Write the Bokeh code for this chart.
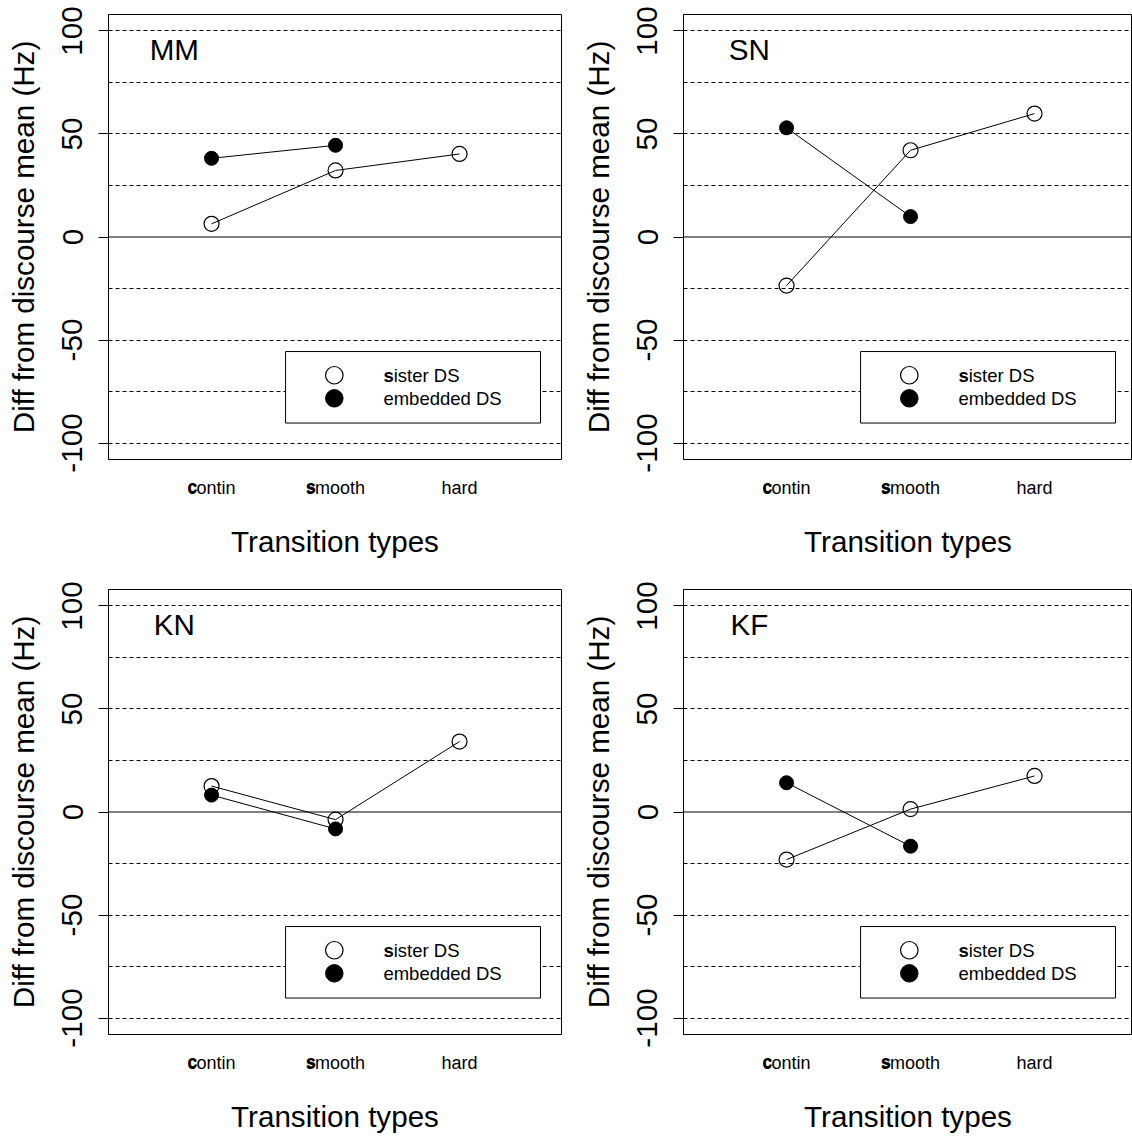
import math
from bokeh.plotting import figure
from bokeh.layouts import gridplot
from bokeh.models import FixedTicker, Span, BoxAnnotation, Label, LinearAxis
from bokeh.embed import file_html
from bokeh.resources import INLINE

NAN = float("nan")

# ---------------- data ----------------
CATEGORIES = ["contin", "smooth", "hard"]
BOLD_FIRST = [True, True, False]
SPEAKERS = ["MM", "SN", "KN", "KF"]

MM_SISTER = [6.4, 32.3, 40.3]
MM_EMBEDDED = [38.2, 44.5, NAN]
SN_SISTER = [-23.6, 42.1, 59.9]
SN_EMBEDDED = [53.0, 9.9, NAN]
KN_SISTER = [12.6, -3.7, 34.2]
KN_EMBEDDED = [8.2, -8.2, NAN]
KF_SISTER = [-23.1, 1.4, 17.5]
KF_EMBEDDED = [14.2, -16.6, NAN]

Y_TICKS = [-100, -50, 0, 50, 100]
GRID_LEVELS = [-100, -75, -50, -25, 25, 50, 75, 100]
LEGEND_LABELS = ["sister DS", "embedded DS"]
LEGEND_BOLD_FIRST = [True, False]
Y_LABEL = "Diff from discourse mean (Hz)"
X_LABEL = "Transition types"

# ---------------- style / layout ----------------
FONT = "Liberation Sans"
BIG = "29.6px"
SMALL = 18
LEG_SIZE = 18.5
PX_PER_UNIT = 124.0
X_START = 0.169
Y_MIN, Y_MAX = -108, 108
TICK_LABEL_H = 24          # pulls the bold-letter axis labels back onto the word labels

REG = {"a": 556, "b": 556, "c": 500, "d": 556, "e": 556, "h": 556, "i": 222, "m": 833,
       "n": 556, "o": 556, "r": 333, "s": 500, "t": 278, " ": 278, "D": 722, "S": 667}
BOLD = {"c": 556, "s": 556, "h": 611}


def text_width(s, size, bold=False):
    table = BOLD if bold else REG
    return sum(table.get(ch, 556) for ch in s) * size / 1000.0


def rich_text(p, x, y, text, bold_first, size, x_off):
    pieces = [(text[0], True), (text[1:], False)] if bold_first else [(text, False)]
    start = x_off
    for t, b in pieces:
        p.add_layout(Label(x=x, y=y, x_offset=start, y_offset=0, text=t,
                           text_font=FONT, text_font_size=f"{size}px",
                           text_font_style="bold" if b else "normal",
                           text_color="black", text_align="left",
                           text_baseline="middle"))
        start += text_width(t, size, b)


def make_panel(name, sister, embedded, width, height, border_right, border_bottom):
    frame_w = width - 108 - border_right
    x_end = X_START + frame_w / PX_PER_UNIT
    p = figure(width=width, height=height, x_range=(X_START, x_end), y_range=(Y_MIN, Y_MAX),
               output_backend="svg", toolbar_location=None,
               min_border_left=108, min_border_right=border_right,
               min_border_top=14, min_border_bottom=border_bottom)
    p.background_fill_color = "white"
    p.border_fill_color = "white"
    p.outline_line_color = "black"
    p.outline_line_width = 1
    p.outline_line_alpha = 1

    # y axis
    p.yaxis.ticker = FixedTicker(ticks=Y_TICKS)
    p.yaxis.major_label_overrides = {t: str(t) for t in Y_TICKS}
    p.yaxis.major_label_orientation = "vertical"
    p.yaxis.major_label_text_font = FONT
    p.yaxis.major_label_text_font_size = BIG
    p.yaxis.major_label_text_color = "black"
    p.yaxis.major_tick_in = 0
    p.yaxis.major_tick_out = 10
    p.yaxis.major_tick_line_color = "black"
    p.yaxis.minor_tick_line_color = None
    p.yaxis.axis_line_color = "black"
    p.yaxis.major_label_standoff = 16
    p.yaxis.axis_label = Y_LABEL
    p.yaxis.axis_label_text_font = FONT
    p.yaxis.axis_label_text_font_size = BIG
    p.yaxis.axis_label_text_font_style = "normal"
    p.yaxis.axis_label_text_color = "black"
    p.yaxis.axis_label_standoff = 20

    xs = list(range(1, len(CATEGORIES) + 1))

    # x axis (inner): category words
    p.xaxis.ticker = FixedTicker(ticks=xs)
    p.xaxis.major_label_overrides = {x: c for x, c in zip(xs, CATEGORIES)}
    p.xaxis.axis_line_color = None
    p.xaxis.major_tick_line_color = None
    p.xaxis.minor_tick_line_color = None
    p.xaxis.major_tick_out = 0
    p.xaxis.major_tick_in = 0
    p.xaxis.major_label_standoff = 18
    p.xaxis.major_label_text_font = FONT
    p.xaxis.major_label_text_font_size = f"{SMALL}px"
    p.xaxis.major_label_text_color = "black"

    # x axis (outer): bold first letters laid over the words, plus the title
    bold_ticks, bold_over = [], {}
    for x, c, bf in zip(xs, CATEGORIES, BOLD_FIRST):
        if bf:
            w_word = text_width(c, SMALL)
            w_b = text_width(c[0], SMALL, True)
            t = round(x + (-w_word / 2.0 + w_b / 2.0) / PX_PER_UNIT, 4)
            bold_ticks.append(t)
            bold_over[t] = c[0]
    ax2 = LinearAxis(ticker=FixedTicker(ticks=bold_ticks), major_label_overrides=bold_over)
    ax2.axis_line_color = None
    ax2.major_tick_line_color = None
    ax2.minor_tick_line_color = None
    ax2.major_tick_out = 0
    ax2.major_tick_in = 0
    ax2.major_label_standoff = -TICK_LABEL_H
    ax2.major_label_text_font = FONT
    ax2.major_label_text_font_size = f"{SMALL}px"
    ax2.major_label_text_font_style = "bold"
    ax2.major_label_text_color = "black"
    ax2.axis_label = X_LABEL
    ax2.axis_label_text_font = FONT
    ax2.axis_label_text_font_size = BIG
    ax2.axis_label_text_font_style = "normal"
    ax2.axis_label_text_color = "black"
    ax2.axis_label_standoff = 25
    p.add_layout(ax2, "below")

    # grid
    p.xgrid.visible = False
    p.ygrid.ticker = FixedTicker(ticks=GRID_LEVELS)
    p.ygrid.grid_line_color = "black"
    p.ygrid.grid_line_width = 1
    p.ygrid.grid_line_dash = "4 3"
    p.add_layout(Span(location=0, dimension="width", line_color="black",
                      line_width=1.2, level="underlay"))

    # series
    p.line(xs, sister, line_color="black", line_width=1)
    p.line(xs, embedded, line_color="black", line_width=1)
    p.scatter(xs, sister, marker="circle", size=15, fill_color=None,
              line_color="black", line_width=1.2)
    p.scatter(xs, embedded, marker="circle", size=14, fill_color="black",
              line_color="black", line_width=1)

    # panel title
    p.add_layout(Label(x=0.7, y=91, text=name, text_font=FONT,
                       text_font_size=BIG, text_align="center",
                       text_baseline="middle", text_color="black"))

    # legend
    p.add_layout(BoxAnnotation(left=1.597, right=3.653, top=-55.6, bottom=-90.3,
                               fill_color="white", fill_alpha=1, line_color="black",
                               line_width=1, line_alpha=1, level="underlay"))
    leg_x = 1.99
    leg_y = [-67.1, -78.3]
    p.scatter([leg_x], [leg_y[0]], marker="circle", size=17.5, fill_color=None,
              line_color="black", line_width=1.2)
    p.scatter([leg_x], [leg_y[1]], marker="circle", size=17.5, fill_color="black",
              line_color="black", line_width=1)
    for ly, lab, bf in zip(leg_y, LEGEND_LABELS, LEGEND_BOLD_FIRST):
        rich_text(p, 2.386, ly, lab, bf, LEG_SIZE, 0)
    return p


p1 = make_panel(SPEAKERS[0], MM_SISTER, MM_EMBEDDED, 575, 575, 14, 116)
p2 = make_panel(SPEAKERS[1], SN_SISTER, SN_EMBEDDED, 557, 575, 0, 116)
p3 = make_panel(SPEAKERS[2], KN_SISTER, KN_EMBEDDED, 575, 566, 14, 107)
p4 = make_panel(SPEAKERS[3], KF_SISTER, KF_EMBEDDED, 557, 566, 0, 107)

grid = gridplot([[p1, p2], [p3, p4]], toolbar_location=None)

open("out.html", "w").write(file_html(grid, INLINE))
